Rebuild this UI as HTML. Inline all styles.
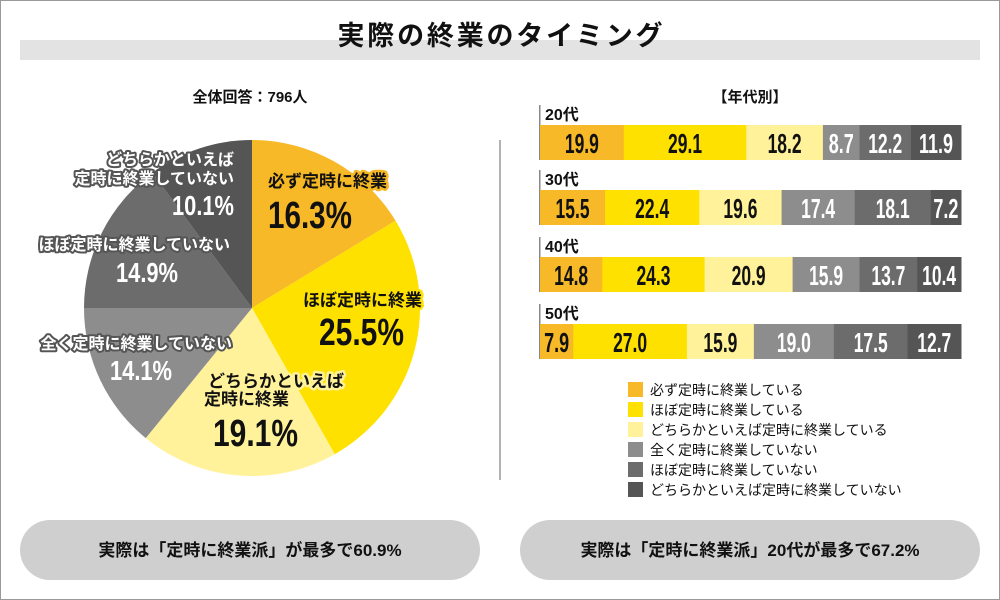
<!DOCTYPE html>
<html><head><meta charset="utf-8"><style>
html,body{margin:0;padding:0;background:#fff}
svg{display:block}
text{font-family:"Liberation Sans","Noto Sans CJK JP",sans-serif}
.n{font-weight:bold}
</style></head><body>
<svg id="s" width="1000" height="600" viewBox="0 0 1000 600" xmlns="http://www.w3.org/2000/svg">
<rect x="0.5" y="0.5" width="999" height="599" fill="#fff" stroke="#999"/>
<rect x="20" y="40" width="960" height="20" fill="#e3e3e3"/>
<text x="500" y="45" text-anchor="middle" font-size="27" font-weight="bold" fill="#111" textLength="325" lengthAdjust="spacing">実際の終業のタイミング</text>
<text x="250" y="102" text-anchor="middle" font-size="15" font-weight="bold" fill="#111">全体回答：796人</text>
<text x="750" y="102" text-anchor="middle" font-size="15" font-weight="bold" fill="#111">【年代別】</text>
<line x1="500" y1="140" x2="500" y2="480" stroke="#999" stroke-width="1.5"/>
<g id="pie"></g>
<g id="pl" font-weight="bold" stroke-linejoin="round">
<g stroke="#f6b824" stroke-width="5" paint-order="stroke" fill="#111">
<text x="268" y="187" font-size="17">必ず定時に終業</text>
</g>
<text x="268" y="228" font-size="38" class="n" fill="#111" textLength="84" lengthAdjust="spacingAndGlyphs">16.3%</text>
<g stroke="#ffe100" stroke-width="5" paint-order="stroke" fill="#111">
<text x="303" y="306" font-size="17">ほぼ定時に終業</text>
</g>
<text x="319" y="345" font-size="38" class="n" fill="#111" textLength="85" lengthAdjust="spacingAndGlyphs">25.5%</text>
<g stroke="#fff29a" stroke-width="5" paint-order="stroke" fill="#111">
<text x="208" y="387" font-size="17">どちらかといえば</text>
<text x="204" y="405" font-size="17">定時に終業</text>
</g>
<text x="213" y="446" font-size="38" class="n" fill="#111" textLength="85" lengthAdjust="spacingAndGlyphs">19.1%</text>
<g stroke="#555" stroke-width="4" paint-order="stroke" fill="#fff">
<text x="234" y="165" font-size="16" text-anchor="end">どちらかといえば</text>
<text x="234" y="184" font-size="16" text-anchor="end">定時に終業していない</text>
<text x="230" y="250" font-size="16" text-anchor="end">ほぼ定時に終業していない</text>
<text x="232" y="349" font-size="16" text-anchor="end">全く定時に終業していない</text>
</g>
<text x="172" y="215" font-size="28" class="n" fill="#fff" textLength="62" lengthAdjust="spacingAndGlyphs">10.1%</text>
<text x="116" y="282" font-size="28" class="n" fill="#fff" textLength="62" lengthAdjust="spacingAndGlyphs">14.9%</text>
<text x="110" y="380" font-size="28" class="n" fill="#fff" textLength="62" lengthAdjust="spacingAndGlyphs">14.1%</text>
</g>
<g id="bars"></g>
<g id="leg" font-size="14" fill="#111"></g>
<rect x="20" y="520" width="460" height="60" rx="30" fill="#cfcfcf"/>
<text x="250" y="556" text-anchor="middle" font-size="17" font-weight="bold" fill="#111">実際は「定時に終業派」が最多で60.9%</text>
<rect x="520" y="520" width="460" height="60" rx="30" fill="#cfcfcf"/>
<text x="750" y="556" text-anchor="middle" font-size="17" font-weight="bold" fill="#111">実際は「定時に終業派」20代が最多で67.2%</text>
</svg>
<script>
var NS="http://www.w3.org/2000/svg";
function el(p,t,a,txt){var e=document.createElementNS(NS,t);for(var k in a)e.setAttribute(k,a[k]);if(txt!=null)e.textContent=txt;p.appendChild(e);return e;}
var cols=["#f7b927","#ffe100","#fff29a","#8d8d8d","#6c6c6c","#555555"];
var pv=[16.3,25.5,19.1,14.1,14.9,10.1],cx=252,cy=308,r=168,a=0;
var pie=document.getElementById("pie");
pv.forEach(function(v,i){var a0=a,a1=a+v/100*2*Math.PI;a=a1;
var x0=cx+r*Math.sin(a0),y0=cy-r*Math.cos(a0),x1=cx+r*Math.sin(a1),y1=cy-r*Math.cos(a1);
el(pie,"path",{d:"M"+cx+","+cy+"L"+x0+","+y0+"A"+r+","+r+" 0 "+((a1-a0)>Math.PI?1:0)+" 1 "+x1+","+y1+"Z",fill:cols[i]});});
var rows=[["20代",[19.9,29.1,18.2,8.7,12.2,11.9]],["30代",[15.5,22.4,19.6,17.4,18.1,7.2]],["40代",[14.8,24.3,20.9,15.9,13.7,10.4]],["50代",[7.9,27.0,15.9,19.0,17.5,12.7]]];
var bars=document.getElementById("bars"),X=540,W=421,ys=[125,190,257,324];
rows.forEach(function(rw,j){var y=ys[j],tot=rw[1].reduce(function(s,v){return s+v},0),x=X;
el(bars,"text",{x:545,y:y-5,"font-size":16,"font-weight":"bold",fill:"#111"},rw[0]);
el(bars,"rect",{x:539,y:y-20,width:1.5,height:55,fill:"#888"});
rw[1].forEach(function(v,i){var w=v/tot*W;el(bars,"rect",{x:x,y:y,width:w+0.5,height:35,fill:cols[i]});
var s=v.toFixed(1),tl=(s.length==3?25:34);
el(bars,"text",{x:x+w/2,y:y+28,"font-size":28,"text-anchor":"middle","class":"n",fill:i<3?"#111":"#fff",textLength:tl,lengthAdjust:"spacingAndGlyphs"},s);
x+=w;});});
var leg=document.getElementById("leg");
["必ず定時に終業している","ほぼ定時に終業している","どちらかといえば定時に終業している","全く定時に終業していない","ほぼ定時に終業していない","どちらかといえば定時に終業していない"].forEach(function(s,i){var y=382+i*20;
el(leg,"rect",{x:628,y:y,width:15,height:15,fill:cols[i]});el(leg,"text",{x:650,y:y+13},s);});
</script>
</body></html>
